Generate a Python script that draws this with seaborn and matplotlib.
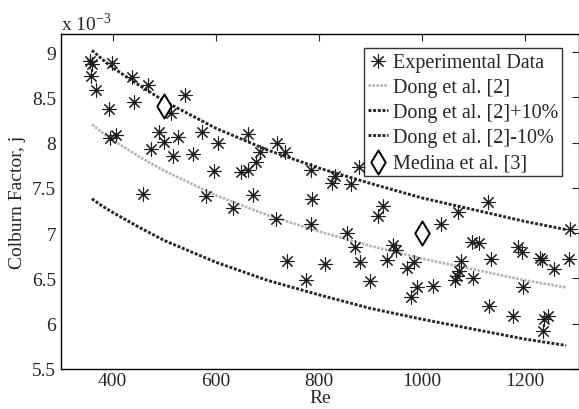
import matplotlib
matplotlib.use("Agg")
import matplotlib.pyplot as plt
import seaborn as sns
import pandas as pd

## Data (j values are x 10^-3)
exp_re = [356, 360, 359, 368, 393, 398, 437, 441, 468, 541, 514, 395, 406, 460, 490, 499,
          526, 475, 518, 557, 573, 605, 662, 719, 687, 734, 679, 596, 649, 662, 785, 832,
          826, 863, 879, 581, 672, 787, 633, 717, 785, 855, 871, 880, 739, 812, 775, 899,
          925, 915, 1071, 1129, 932, 945, 949, 971, 985, 991, 980, 1022, 1037, 1076, 1072,
          1069, 1064, 1099, 1098, 1111, 1134, 1186, 1194, 1230, 1233, 1257, 1285, 1288,
          1196, 1131, 1176, 1245, 1237, 1236]
exp_j = [8.90, 8.87, 8.74, 8.58, 8.37, 8.88, 8.72, 8.45, 8.64, 8.53, 8.33, 8.05, 8.09, 7.43,
         8.12, 8.01, 8.06, 7.93, 7.85, 7.88, 8.12, 8.00, 8.10, 8.00, 7.90, 7.90, 7.79, 7.69,
         7.68, 7.70, 7.70, 7.63, 7.55, 7.54, 7.73, 7.41, 7.42, 7.38, 7.28, 7.16, 7.10, 7.00,
         6.85, 6.68, 6.69, 6.66, 6.48, 6.47, 7.30, 7.19, 7.23, 7.34, 6.70, 6.87, 6.81, 6.61,
         6.68, 6.41, 6.29, 6.42, 7.10, 6.69, 6.58, 6.53, 6.48, 6.51, 6.90, 6.89, 6.72, 6.85,
         6.79, 6.73, 6.70, 6.60, 6.72, 7.05, 6.41, 6.20, 6.09, 6.09, 6.05, 5.92]

curve_re = [360, 380, 400, 450, 500, 600, 700, 800, 900, 1000, 1100, 1200, 1280]
dong_j = [8.20, 8.11, 8.03, 7.85, 7.69, 7.42, 7.20, 7.02, 6.86, 6.72, 6.60, 6.48, 6.40]
dong_plus_j = [9.02, 8.92, 8.83, 8.64, 8.46, 8.16, 7.92, 7.72, 7.55, 7.39, 7.26, 7.13, 7.04]
dong_minus_j = [7.38, 7.30, 7.23, 7.07, 6.92, 6.68, 6.48, 6.32, 6.17, 6.05, 5.94, 5.83, 5.76]

medina_re = [500, 1000]
medina_j = [8.40, 7.00]

exp = pd.DataFrame({'Re': exp_re, 'j': exp_j})
curves = pd.DataFrame({'Re': curve_re, 'dong': dong_j, 'plus': dong_plus_j, 'minus': dong_minus_j})
medina = pd.DataFrame({'Re': medina_re, 'j': medina_j})

## Plotting
sns.set_style('white')
plt.rcParams['font.family'] = ['Liberation Serif', 'DejaVu Serif']
plt.rcParams['mathtext.fontset'] = 'custom'
plt.rcParams['mathtext.rm'] = 'Liberation Serif'
plt.rcParams['font.size'] = 14

fig = plt.figure(figsize=(5.79, 4.10), dpi=100)
ax = fig.add_axes([0.1054, 0.0976, 0.8946, 0.817])

sns.scatterplot(ax=ax, data=exp, x='Re', y='j', marker=(8, 2, 0), s=90, color='#1e1e1e',
                linewidth=0.8, label='Experimental Data', zorder=3)
sns.lineplot(ax=ax, data=curves, x='Re', y='dong', color='#b4b4b4', linewidth=1.9,
             linestyle=(0, (1, 0.5)), label='Dong et al. [2]')
sns.lineplot(ax=ax, data=curves, x='Re', y='plus', color='#262626', linewidth=2.1,
             linestyle=(0, (1, 0.6)), label='Dong et al. [2]+10%')
sns.lineplot(ax=ax, data=curves, x='Re', y='minus', color='#262626', linewidth=2.1,
             linestyle=(0, (1, 0.6)), label='Dong et al. [2]-10%')
sns.scatterplot(ax=ax, data=medina, x='Re', y='j', marker='d', s=150, facecolor='white',
                edgecolor='black', linewidth=1.4, label='Medina et al. [3]', zorder=4)

ax.set_xlim(300, 1305)
ax.set_ylim(5.5, 9.2)
ax.set_xticks([400, 600, 800, 1000, 1200])
ax.set_yticks([5.5, 6, 6.5, 7, 7.5, 8, 8.5, 9])
ax.set_yticklabels(['5.5', '6', '6.5', '7', '7.5', '8', '8.5', '9'])
ax.tick_params(direction='in', length=5, width=0.8, top=True, right=True, labelsize=14)
ax.tick_params(axis='x', pad=2)
for s in ax.spines.values():
    s.set_linewidth(1.0)
    s.set_color('black')
ax.set_xlabel('Re', fontsize=14, labelpad=0)
ax.set_ylabel('Colburn Factor, j', fontsize=14, labelpad=4)
ax.text(0.0, 1.0, 'x 10$^{-3}$', transform=ax.transAxes, va='bottom', ha='left', fontsize=14)

leg = ax.legend(loc='upper right', bbox_to_anchor=(0.967, 0.957), borderaxespad=0,
                fontsize=14.5, frameon=True, fancybox=False, handlelength=1.0,
                handletextpad=0.2, borderpad=0.2, labelspacing=0.3)
leg.get_frame().set_edgecolor('black')
leg.get_frame().set_linewidth(1.0)

plt.savefig('out.png', dpi=100)
plt.close()
